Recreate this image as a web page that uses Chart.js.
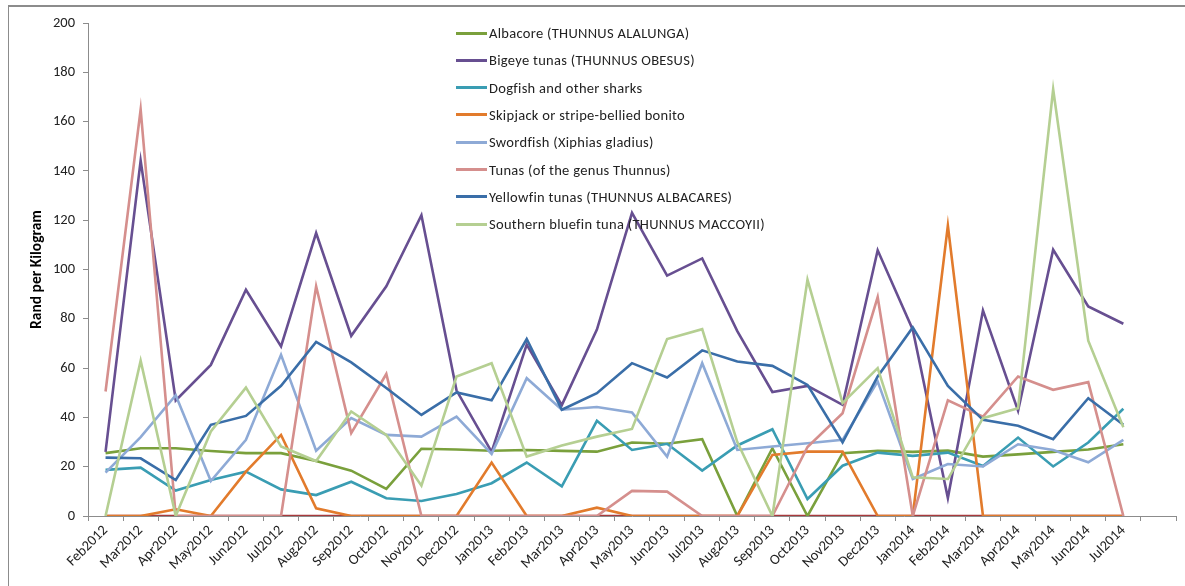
<!DOCTYPE html>
<html>
<head>
<meta charset="utf-8">
<script src="https://cdn.jsdelivr.net/npm/chart.js@4/dist/chart.umd.min.js"></script>
<style>
  html, body { margin: 0; padding: 0; background: #fff; }
  #wrap { position: relative; width: 1185px; height: 586px; overflow: hidden; }
  #frame { position: absolute; left: 8px; top: 5px; width: 1300px; height: 700px;
           border-left: 1px solid #8c8c8c; border-top: 2px solid #8c8c8c; pointer-events: none; }
  canvas { position: absolute; left: 0; top: 0; }
  #legend { position: absolute; left: 456px; top: 23px; font-family: Carlito, Lato, sans-serif;
            font-size: 14.5px; letter-spacing: 0.3px; color: #222; }
  .item { position: absolute; left: 0; height: 20px; white-space: nowrap; display: flex; align-items: center; }
  .swatch { width: 31px; height: 3px; margin-right: 2px; }
</style>
</head>
<body>
<div id="wrap">
  <canvas id="c" width="1185" height="586"></canvas>
  <div id="frame"></div>
  <div id="legend"></div>
</div>
<script>
// Monthly categories; the trailing empty slot leaves one blank interval on the axis
const months = ['Feb2012','Mar2012','Apr2012','May2012','Jun2012','Jul2012','Aug2012','Sep2012',
  'Oct2012','Nov2012','Dec2012','Jan2013','Feb2013','Mar2013','Apr2013','May2013','Jun2013',
  'Jul2013','Aug2013','Sep2013','Oct2013','Nov2013','Dec2013','Jan2014','Feb2014','Mar2014',
  'Apr2014','May2014','Jun2014','Jul2014',''];

// Prices, rand per kilogram
const albacore  = [25.5,27.5,27.5,26.4,25.5,25.5,22.3,18.4,11,27.3,27,26.5,26.8,26.4,26.1,29.8,29.3,31.2,0,27.5,0,25.5,26.4,26,26.5,24.1,25,26,27,29.1];
const bigeye    = [26,144.2,46.9,61.3,91.8,68.8,114.8,73.1,93.2,122,51,26,69.5,45,75.6,123,97.5,104.5,75,50.3,52.8,45.1,107.8,75.6,7.3,83.4,42.7,108,85,78];
const dogfish   = [18.7,19.6,10.3,14.6,18,10.8,8.5,13.9,7.2,6.1,8.9,13.3,21.7,12,38.6,26.8,29.3,18.4,28.6,35.2,6.9,20.4,25.7,24.4,25.7,20.3,31.8,20.1,29.8,43.5];
const skipjack  = [0,0,2.7,0,18,32.9,3.1,0,0,0,0,21.7,0,0,3.4,0,0,0,0,24.8,26.1,26.1,0,0,117.8,0,0,0,0,0];
const swordfish = [17.6,32,49,14.2,30.9,65.4,26.5,39.7,32.9,32.2,40.3,25.2,55.9,43.1,44.2,42,24.1,62,26.8,28.2,29.5,30.9,54.6,15,21.1,20.1,29.1,26.8,21.8,30.9];
const tunas     = [50.5,164.9,0,0,0,0,93.2,33.6,57.6,0,0,0,0,0,0,10.2,9.9,0,0,0,28,41.7,88.8,0,46.9,40.3,56.6,51.2,54.3,0];
const yellowfin = [23.7,23.4,14.6,37,40.6,52.8,70.6,62.3,51.9,41,50.1,46.9,71.8,43.1,49.8,62,56.2,67.2,62.7,60.9,53.2,29.9,56.6,76.5,52.8,39,36.6,31.2,47.8,37];
const bluefin   = [0,63,0,34.3,52.1,28.2,22.3,42.4,32.9,12.3,56.6,62,24.1,28.6,32.2,35.3,71.8,75.8,30,0,95.9,45.8,60,15.7,15,39.7,43.7,173.1,71.1,36];
const other     = [0,0,0,0,0,0,0,0,0,0,0,0,0,0,0,0,0,0,0,0,0,0,0,0,0,0,0,0,0,0];

const seriesNames = ['Albacore (THUNNUS ALALUNGA)','Bigeye tunas (THUNNUS OBESUS)','Dogfish and other sharks',
  'Skipjack or stripe-bellied bonito','Swordfish (Xiphias gladius)','Tunas (of the genus Thunnus)',
  'Yellowfin tunas (THUNNUS ALBACARES)','Southern bluefin tuna (THUNNUS MACCOYII)'];
const seriesColors = ['#7aa03c','#674f91','#3a9db3','#e27b2c','#8eaad6','#d58f8d','#3a6ea8','#b5cf92'];
const seriesValues = [albacore, bigeye, dogfish, skipjack, swordfish, tunas, yellowfin, bluefin];

const font = "Carlito, Lato, sans-serif";

const datasets = seriesValues.map((vals, i) => ({
  label: seriesNames[i],
  data: vals,
  borderColor: seriesColors[i],
  backgroundColor: seriesColors[i],
  borderWidth: 2.6,
  pointRadius: 0,
  tension: 0,
  fill: false,
  order: 100 - i          // later series sit on top
}));
datasets.push({
  label: 'Other',
  data: other,
  borderColor: '#a83a3c',
  borderWidth: 2.6,
  pointRadius: 0,
  fill: false,
  order: 1000             // drawn underneath everything
});

new Chart(document.getElementById('c'), {
  type: 'line',
  data: { labels: months, datasets },
  options: {
    responsive: false,
    animation: false,
    layout: { padding: { top: 23, right: 9, bottom: 0, left: 0 } },
    plugins: { legend: { display: false }, tooltip: { enabled: false } },
    scales: {
      x: {
        type: 'category',
        offset: true,
        grid: { display: true, drawOnChartArea: false, drawTicks: true, tickLength: 5, offset: true, color: '#8c8c8c' },
        border: { display: true, color: '#8c8c8c', width: 1 },
        ticks: { autoSkip: false, maxRotation: 45, minRotation: 45, padding: 1,
                 color: '#222', font: { family: font, size: 14.5 } },
        afterFit: s => { s.height = 70; }
      },
      y: {
        min: 0, max: 200,
        grid: { display: true, drawOnChartArea: false, drawTicks: true, tickLength: 5, color: '#8c8c8c' },
        border: { display: true, color: '#8c8c8c', width: 1 },
        ticks: { stepSize: 20, padding: 8, color: '#222', font: { family: font, size: 14.5 } },
        title: { display: true, text: 'Rand per Kilogram', color: '#000',
                 font: { family: font, size: 15.5, weight: 'bold' }, padding: { top: 28, bottom: 0 } },
        afterFit: s => { s.width = 88; }
      }
    }
  }
});

// Legend placed inside the plot area
const legend = document.getElementById('legend');
seriesNames.forEach((name, i) => {
  const row = document.createElement('div');
  row.className = 'item';
  row.style.top = (i * 27.3) + 'px';
  const sw = document.createElement('span');
  sw.className = 'swatch';
  sw.style.background = seriesColors[i];
  const tx = document.createElement('span');
  tx.textContent = name;
  row.appendChild(sw);
  row.appendChild(tx);
  legend.appendChild(row);
});
</script>
</body>
</html>
